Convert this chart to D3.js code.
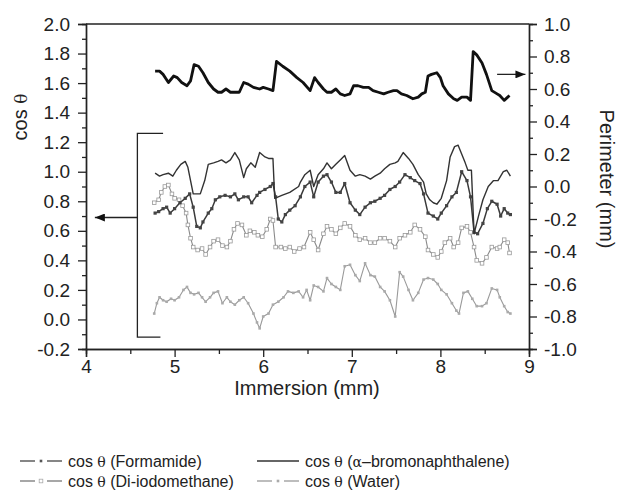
<!DOCTYPE html>
<html>
<head>
<meta charset="utf-8">
<script src="https://cdn.jsdelivr.net/npm/d3@7"></script>
<style>
  body { margin: 0; background: #fff; }
  text { font-family: "Liberation Sans", Arial, sans-serif; fill: #222; }
  .gr { font-family: "DejaVu Serif", "Liberation Serif", serif; }
</style>
</head>
<body>
<div id="chart"></div>
<script>
// tick labels
const xTicks = [4, 5, 6, 7, 8, 9];
const xMinor = [4.5, 5.5, 6.5, 7.5, 8.5];
const leftTicks = [-0.2, 0.0, 0.2, 0.4, 0.6, 0.8, 1.0, 1.2, 1.4, 1.6, 1.8, 2.0];
const leftMinor = [-0.1, 0.1, 0.3, 0.5, 0.7, 0.9, 1.1, 1.3, 1.5, 1.7, 1.9];
const rightTicks = [-1.0, -0.8, -0.6, -0.4, -0.2, 0.0, 0.2, 0.4, 0.6, 0.8, 1.0];
const rightMinor = [-0.9, -0.7, -0.5, -0.3, -0.1, 0.1, 0.3, 0.5, 0.7, 0.9];

// perimeter (right axis)
const perimX = [4.78,4.83,4.87,4.93,4.99,5.03,5.08,5.14,5.18,5.22,5.27,5.32,5.38,5.44,5.49,5.53,5.58,5.63,5.68,5.73,5.78,5.83,5.89,5.96,6.00,6.06,6.11,6.15,6.22,6.30,6.38,6.45,6.53,6.58,6.62,6.68,6.72,6.77,6.82,6.87,6.92,6.98,7.02,7.07,7.13,7.19,7.24,7.30,7.36,7.41,7.47,7.51,7.56,7.62,7.69,7.75,7.79,7.83,7.86,7.90,7.96,8.00,8.03,8.09,8.15,8.19,8.24,8.30,8.34,8.37,8.41,8.47,8.52,8.58,8.64,8.67,8.72,8.76,8.78];
const perimY = [0.71,0.71,0.69,0.64,0.68,0.67,0.64,0.62,0.65,0.75,0.74,0.70,0.64,0.60,0.58,0.58,0.60,0.58,0.58,0.58,0.64,0.63,0.61,0.60,0.61,0.60,0.59,0.77,0.74,0.71,0.67,0.64,0.59,0.67,0.64,0.60,0.58,0.58,0.60,0.57,0.56,0.57,0.62,0.62,0.61,0.61,0.59,0.58,0.57,0.58,0.59,0.59,0.57,0.56,0.54,0.55,0.57,0.58,0.68,0.69,0.70,0.67,0.62,0.57,0.54,0.53,0.55,0.55,0.53,0.83,0.81,0.76,0.69,0.59,0.57,0.56,0.53,0.55,0.56];

// cos theta, alpha-bromonaphthalene
const alphaX = [4.78,4.83,4.87,4.93,4.98,5.02,5.07,5.12,5.15,5.18,5.21,5.25,5.29,5.34,5.38,5.44,5.49,5.53,5.58,5.63,5.68,5.73,5.78,5.81,5.86,5.91,5.96,6.02,6.06,6.11,6.13,6.21,6.30,6.40,6.42,6.47,6.53,6.57,6.62,6.68,6.72,6.77,6.82,6.87,6.92,6.98,7.04,7.09,7.15,7.21,7.26,7.32,7.37,7.43,7.49,7.52,7.58,7.64,7.69,7.75,7.81,7.84,7.88,7.92,7.96,8.01,8.07,8.11,8.16,8.20,8.24,8.28,8.31,8.35,8.38,8.43,8.48,8.54,8.60,8.65,8.71,8.75,8.79];
const alphaY = [0.99,0.97,0.98,0.99,0.97,1.01,1.05,1.07,1.03,0.94,0.85,0.85,0.85,0.94,1.05,1.06,1.07,1.08,1.06,1.08,1.13,1.08,0.96,1.02,1.06,1.03,1.13,1.10,1.09,1.09,0.82,0.84,0.86,0.90,0.93,0.98,1.01,0.90,0.98,1.02,1.06,1.02,1.05,1.08,1.11,1.01,0.97,0.98,0.97,0.95,0.97,0.99,1.02,1.05,1.06,1.07,1.13,1.09,1.05,0.98,0.93,0.85,0.81,0.79,0.78,0.82,0.94,1.10,1.17,1.18,1.12,1.06,1.01,1.01,0.58,0.70,0.81,0.90,0.94,0.94,1.00,1.01,0.97];

// cos theta, formamide
const formX = [4.78,4.82,4.87,4.91,4.95,5.00,5.06,5.12,5.17,5.21,5.25,5.29,5.32,5.38,5.42,5.46,5.51,5.57,5.63,5.68,5.72,5.78,5.83,5.87,5.93,5.96,6.02,6.08,6.11,6.14,6.17,6.21,6.25,6.30,6.36,6.42,6.47,6.53,6.57,6.62,6.68,6.72,6.77,6.82,6.87,6.92,6.98,7.04,7.09,7.15,7.21,7.26,7.32,7.37,7.43,7.49,7.54,7.60,7.66,7.71,7.77,7.81,7.86,7.92,7.97,8.01,8.07,8.13,8.18,8.24,8.30,8.34,8.38,8.42,8.48,8.53,8.58,8.64,8.68,8.72,8.76,8.79];
const formY = [0.72,0.73,0.75,0.76,0.72,0.75,0.79,0.82,0.85,0.76,0.63,0.62,0.66,0.72,0.75,0.81,0.83,0.84,0.83,0.85,0.81,0.83,0.83,0.79,0.84,0.86,0.88,0.90,0.92,0.83,0.68,0.66,0.71,0.74,0.77,0.83,0.90,0.93,0.83,0.93,0.97,0.98,0.93,0.86,0.86,0.92,0.79,0.74,0.71,0.76,0.79,0.80,0.82,0.84,0.88,0.90,0.93,0.98,0.96,0.94,0.92,0.85,0.72,0.70,0.68,0.72,0.77,0.83,0.86,1.00,0.94,0.83,0.59,0.58,0.65,0.75,0.80,0.78,0.70,0.75,0.72,0.71];

// cos theta, di-iodomethane
const diX = [4.77,4.82,4.85,4.89,4.93,4.97,5.00,5.05,5.09,5.13,5.15,5.18,5.21,5.26,5.31,5.35,5.40,5.44,5.49,5.54,5.59,5.63,5.67,5.71,5.76,5.81,5.85,5.90,5.94,5.99,6.04,6.08,6.11,6.14,6.20,6.25,6.30,6.35,6.41,6.46,6.53,6.57,6.62,6.68,6.72,6.77,6.82,6.87,6.92,6.98,7.04,7.09,7.15,7.21,7.26,7.32,7.37,7.43,7.49,7.54,7.60,7.66,7.71,7.77,7.83,7.86,7.92,7.97,8.01,8.05,8.11,8.15,8.20,8.24,8.30,8.34,8.38,8.41,8.47,8.52,8.58,8.64,8.67,8.72,8.76,8.78];
const diY = [0.79,0.81,0.86,0.90,0.91,0.85,0.82,0.81,0.77,0.72,0.64,0.55,0.49,0.47,0.48,0.44,0.49,0.53,0.54,0.50,0.49,0.53,0.61,0.65,0.64,0.57,0.60,0.59,0.57,0.56,0.61,0.68,0.67,0.49,0.49,0.48,0.49,0.46,0.48,0.49,0.59,0.54,0.47,0.58,0.63,0.61,0.58,0.62,0.65,0.63,0.57,0.54,0.55,0.52,0.52,0.55,0.55,0.53,0.49,0.55,0.57,0.59,0.64,0.61,0.56,0.47,0.44,0.42,0.46,0.52,0.55,0.49,0.52,0.62,0.63,0.59,0.49,0.40,0.38,0.42,0.49,0.48,0.49,0.54,0.52,0.45];

// cos theta, water
const waterX = [4.77,4.80,4.83,4.87,4.91,4.96,5.00,5.05,5.10,5.14,5.18,5.22,5.27,5.31,5.35,5.40,5.44,5.49,5.54,5.59,5.63,5.68,5.73,5.78,5.83,5.89,5.93,5.96,6.00,6.06,6.11,6.17,6.23,6.28,6.34,6.40,6.45,6.49,6.53,6.57,6.62,6.68,6.72,6.77,6.82,6.87,6.92,6.98,7.04,7.09,7.15,7.21,7.26,7.32,7.37,7.43,7.49,7.54,7.58,7.64,7.69,7.75,7.81,7.86,7.92,7.97,8.01,8.07,8.13,8.18,8.21,8.26,8.31,8.36,8.41,8.47,8.52,8.58,8.64,8.67,8.72,8.76,8.79];
const waterY = [0.04,0.11,0.15,0.13,0.12,0.14,0.13,0.15,0.20,0.22,0.18,0.17,0.18,0.15,0.12,0.15,0.18,0.19,0.11,0.15,0.12,0.10,0.13,0.15,0.11,0.04,-0.02,-0.06,0.02,0.04,0.10,0.12,0.15,0.19,0.18,0.19,0.15,0.20,0.13,0.23,0.22,0.19,0.28,0.24,0.22,0.20,0.36,0.37,0.30,0.26,0.38,0.30,0.29,0.22,0.19,0.13,0.02,0.32,0.29,0.20,0.13,0.18,0.27,0.28,0.27,0.24,0.20,0.17,0.11,0.06,0.04,0.18,0.19,0.14,0.09,0.09,0.11,0.21,0.20,0.15,0.09,0.05,0.04];

const W = 620, H = 496;
const svg = d3.select("#chart").append("svg").attr("width", W).attr("height", H);

const x = d3.scaleLinear().domain([4, 9]).range([86, 529]);
const yL = d3.scaleLinear().domain([-0.2, 2.0]).range([349, 24]);
const yR = d3.scaleLinear().domain([-1, 1]).range([349, 24]);

const fmt = v => v.toFixed(1);

function axisStyle(g) {
    g.select(".domain").attr("stroke", "#222").attr("stroke-width", 1.4);
    g.selectAll(".tick line").attr("stroke", "#222").attr("stroke-width", 1.3);
    g.selectAll(".tick text").style("font-size", "19px").attr("fill", "#222");
}

// minor ticks first
svg.append("g").attr("transform", "translate(0,349)")
    .call(d3.axisBottom(x).tickValues(xMinor).tickSize(5).tickFormat("")).call(axisStyle);
svg.append("g").attr("transform", "translate(86,0)")
    .call(d3.axisLeft(yL).tickValues(leftMinor).tickSize(4).tickFormat("")).call(axisStyle);
svg.append("g").attr("transform", "translate(529,0)")
    .call(d3.axisRight(yR).tickValues(rightMinor).tickSize(4).tickFormat("")).call(axisStyle);

// major ticks
svg.append("g").attr("transform", "translate(0,349)")
    .call(d3.axisBottom(x).tickValues(xTicks).tickSize(8).tickPadding(3).tickFormat(d3.format("d"))).call(axisStyle);
svg.append("g").attr("transform", "translate(86,0)")
    .call(d3.axisLeft(yL).tickValues(leftTicks).tickSize(8).tickPadding(8).tickFormat(fmt)).call(axisStyle);
svg.append("g").attr("transform", "translate(529,0)")
    .call(d3.axisRight(yR).tickValues(rightTicks).tickSize(8).tickPadding(7).tickFormat(fmt)).call(axisStyle);

// top frame line
svg.append("line").attr("x1", x(4)).attr("x2", x(9)).attr("y1", yL(2)).attr("y2", yL(2))
    .attr("stroke", "#222").attr("stroke-width", 1.4);

// axis titles
svg.append("text").attr("x", 307).attr("y", 395).attr("text-anchor", "middle")
    .style("font-size", "20px").text("Immersion (mm)");
const lt = svg.append("text").attr("transform", "translate(27,117) rotate(-90)")
    .attr("text-anchor", "middle").style("font-size", "20px");
lt.append("tspan").text("cos ");
lt.append("tspan").attr("class", "gr").style("font-size", "17px").text("θ");
svg.append("text").attr("transform", "translate(600,179) rotate(90)")
    .attr("text-anchor", "middle").style("font-size", "20px").text("Perimeter (mm)");

// series
function drawSeries(xs, ys, yScale, opt) {
    const pts = xs.map((v, i) => [v, ys[i]]);
    const line = d3.line().x(d => x(d[0])).y(d => yScale(d[1]));
    svg.append("path").datum(pts).attr("d", line)
        .attr("fill", "none").attr("stroke", opt.color).attr("stroke-width", opt.width)
        .attr("stroke-linejoin", "round");
    if (opt.marker) {
        const s = opt.marker;
        svg.append("g").selectAll("rect").data(pts).join("rect")
            .attr("x", d => x(d[0]) - s / 2).attr("y", d => yScale(d[1]) - s / 2)
            .attr("width", s).attr("height", s)
            .attr("fill", opt.mfill).attr("stroke", opt.mstroke || "none").attr("stroke-width", 0.8);
    }
}

drawSeries(waterX, waterY, yL, { color: "#999", width: 1.1, marker: 2.6, mfill: "#aaa" });
drawSeries(diX, diY, yL, { color: "#8a8a8a", width: 1.1, marker: 3.6, mfill: "#fff", mstroke: "#999" });
drawSeries(formX, formY, yL, { color: "#3a3a3a", width: 1.5, marker: 3.2, mfill: "#444" });
drawSeries(alphaX, alphaY, yL, { color: "#333", width: 1.4 });
drawSeries(perimX, perimY, yR, { color: "#111", width: 2.8 });

// arrows and bracket
const defs = svg.append("defs");
defs.append("marker").attr("id", "ah").attr("viewBox", "0 0 10 8").attr("refX", 10).attr("refY", 4)
    .attr("markerWidth", 10).attr("markerHeight", 8).attr("markerUnits", "userSpaceOnUse")
    .attr("orient", "auto").append("path").attr("d", "M0,0 L10,4 L0,8 Z").attr("fill", "#111");

const bx = 4.58;
svg.append("path")
    .attr("d", `M${x(4.87)},${yL(1.26)} H${x(bx)} V${yL(-0.12)} H${x(4.84)}`)
    .attr("fill", "none").attr("stroke", "#222").attr("stroke-width", 1.3);
svg.append("line").attr("x1", x(bx)).attr("x2", x(4.1)).attr("y1", yL(0.69)).attr("y2", yL(0.69))
    .attr("stroke", "#222").attr("stroke-width", 1.3).attr("marker-end", "url(#ah)");
svg.append("line").attr("x1", x(8.64)).attr("x2", x(8.96)).attr("y1", yR(0.69)).attr("y2", yR(0.69))
    .attr("stroke", "#222").attr("stroke-width", 1.3).attr("marker-end", "url(#ah)");

// legend
const legend = [
    { name: "Formamide", col: 0, row: 0, color: "#444", sym: "dot", mfill: "#555" },
    { name: "α–bromonaphthalene", col: 1, row: 0, color: "#333", sym: "line", greek: true },
    { name: "Di-iodomethane", col: 0, row: 1, color: "#777", sym: "sq", mfill: "#fff" },
    { name: "Water", col: 1, row: 1, color: "#999", sym: "dot", mfill: "#aaa" }
];
const colX = [20, 257], rowY = [461, 481];
legend.forEach(d => {
    const lx = colX[d.col], ly = rowY[d.row];
    const g = svg.append("g");
    if (d.sym === "line") {
        g.append("line").attr("x1", lx).attr("x2", lx + 42).attr("y1", ly).attr("y2", ly)
            .attr("stroke", d.color).attr("stroke-width", 1.3);
    } else {
        g.append("line").attr("x1", lx).attr("x2", lx + 15).attr("y1", ly).attr("y2", ly)
            .attr("stroke", d.color).attr("stroke-width", 1.3);
        g.append("line").attr("x1", lx + 27).attr("x2", lx + 42).attr("y1", ly).attr("y2", ly)
            .attr("stroke", d.color).attr("stroke-width", 1.3);
        const s = d.sym === "sq" ? 3.6 : 2.6;
        g.append("rect").attr("x", lx + 21 - s / 2).attr("y", ly - s / 2).attr("width", s).attr("height", s)
            .attr("fill", d.mfill).attr("stroke", d.sym === "sq" ? "#aaa" : "none").attr("stroke-width", 0.8);
    }
    const t = g.append("text").attr("x", lx + 48).attr("y", ly + 6).style("font-size", "16px");
    t.append("tspan").text("cos ");
    t.append("tspan").attr("class", "gr").style("font-size", "14px").text("θ");
    if (d.greek) {
        t.append("tspan").text(" (");
        t.append("tspan").attr("class", "gr").style("font-size", "14px").text("α");
        t.append("tspan").text("–bromonaphthalene)");
    } else {
        t.append("tspan").text(" (" + d.name + ")");
    }
});
</script>
</body>
</html>
